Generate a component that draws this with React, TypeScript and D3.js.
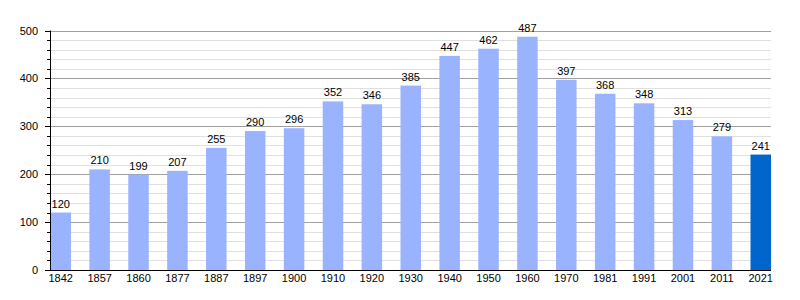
import React from "react";
import * as d3 from "d3";

const years = ["1842","1857","1860","1877","1887","1897","1900","1910","1920","1930","1940","1950","1960","1970","1981","1991","2001","2011","2021"];
const population = [120,210,199,207,255,290,296,352,346,385,447,462,487,397,368,348,313,279,241];
const majorTicks = [0,100,200,300,400,500];

export default function App() {
  const W = 800, H = 300;
  const x0 = 50, x1 = 771, yTop = 30.5, yBot = 270;
  const bw = 20.5;
  const y = d3.scaleLinear().domain([0, 500]).range([yBot, yTop]);
  const xi = d3.scaleLinear().domain([0, years.length - 1]).range([x0 + 0.5, x1 - bw]);
  const bx = (i: number) => xi(i);
  const minor = d3.range(0, 501, 20);
  const font = "Liberation Sans, Arial, sans-serif";
  return (
    <svg width={W} height={H} style={{ position: "absolute", left: 0, top: 0 }} fontFamily={font}>
      <rect width={W} height={H} fill="#fff" />
      {minor.filter(v => v % 100 !== 0).map(v => (
        <line key={"m" + v} x1={x0} x2={x1} y1={Math.round(y(v)) + 0.5} y2={Math.round(y(v)) + 0.5} stroke="#e0e0e0" strokeWidth={1} />
      ))}
      {majorTicks.filter(v => v > 0).map(v => (
        <line key={"M" + v} x1={x0} x2={x1} y1={Math.round(y(v)) + 0.5} y2={Math.round(y(v)) + 0.5} stroke="#a0a0a0" strokeWidth={1} />
      ))}
      {population.map((v, i) => (
        <rect key={years[i]} x={bx(i)} y={y(v)} width={bw} height={yBot - y(v)} fill={i === years.length - 1 ? "#0066cc" : "#99b3ff"} />
      ))}
      {population.map((v, i) => (
        <text key={"l" + years[i]} x={bx(i) + bw / 2} y={y(v) - 5} textAnchor="middle" fontSize={11} fill="#000">{v}</text>
      ))}
      {minor.map(v => (
        <line key={"t" + v} x1={v % 100 === 0 ? x0 - 5 : x0 - 3} x2={x0} y1={Math.round(y(v)) + 0.5} y2={Math.round(y(v)) + 0.5} stroke="#000" strokeWidth={1} />
      ))}
      <line x1={x0 + 0.5} x2={x0 + 0.5} y1={yTop} y2={yBot} stroke="#000" />
      <line x1={x0 - 5} x2={x1} y1={yBot + 0.5} y2={yBot + 0.5} stroke="#000" />
      {majorTicks.map(v => (
        <text key={"y" + v} x={38} y={y(v) + 4} textAnchor="end" fontSize={11} fill="#000">{v}</text>
      ))}
      {years.map((yr, i) => (
        <text key={"x" + yr} x={bx(i) + bw / 2} y={282} textAnchor="middle" fontSize={11} fill="#000">{yr}</text>
      ))}
    </svg>
  );
}
